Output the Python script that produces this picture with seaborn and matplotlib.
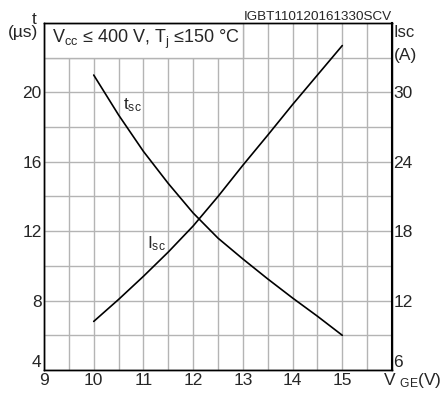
import numpy as np
import pandas as pd
import matplotlib
matplotlib.use("Agg")
import matplotlib.pyplot as plt
from matplotlib.patches import Rectangle
import seaborn as sns

# values
vge = [10, 10.5, 11, 11.5, 12, 12.5, 13, 13.5, 14, 14.5, 15]
tsc_us = [21.0, 18.7, 16.6, 14.75, 13.05, 11.6, 10.4, 9.25, 8.15, 7.1, 6.0]
isc_a = [10.2, 12.1, 14.1, 16.2, 18.45, 21.0, 23.7, 26.3, 28.95, 31.5, 34.05]

x_ticks = [9, 10, 11, 12, 13, 14, 15]
t_ticks = [4, 8, 12, 16, 20]
i_ticks = [6, 12, 18, 24, 30]

sns.set_style("white")
plt.rcParams["font.family"] = ["Liberation Sans", "DejaVu Sans"]
plt.rcParams["mathtext.fontset"] = "custom"
plt.rcParams["mathtext.rm"] = "Liberation Sans"
plt.rcParams["mathtext.it"] = "Liberation Sans:italic"

df = pd.DataFrame({"vge": vge, "tsc": tsc_us, "isc": isc_a})

W, H = 442, 396


def px(x, y):
    return x / W, 1 - y / H


fig = plt.figure(figsize=(W / 100, H / 100), dpi=100)
ax = fig.add_axes([44 / W, 26 / H, 348 / W, 347 / H])
ax2 = ax.twinx()

grid_col = "#b4b4b4"
ax.set_xlim(9, 16)
ax.set_ylim(4, 24)
ax2.set_ylim(6, 36)

ax.set_xticks(x_ticks)
ax.set_xticks(np.arange(9.5, 16, 0.5), minor=True)
ax.set_yticks(t_ticks)
ax.set_yticks(np.arange(6, 24, 2), minor=True)
ax.grid(which="both", color=grid_col, lw=1.0)
ax.set_axisbelow(True)

# white box for the conditions text
ax.add_patch(Rectangle((9, 22), 4, 2, facecolor="white", edgecolor=grid_col,
                       lw=1.0, zorder=1))
ax.text(9.16, 22.83, r"V$_{\mathregular{cc}}$ ≤ 400 V, T$_{\mathregular{j}}$ ≤150 °C",
        fontsize=13, va="baseline", ha="left", zorder=3)

sns.lineplot(data=df, x="vge", y="tsc", ax=ax, color="black", lw=1.2, zorder=3)
sns.lineplot(data=df, x="vge", y="isc", ax=ax2, color="black", lw=1.2, zorder=3)

ax.set_xlabel("")
ax.set_ylabel("")
ax2.set_xlabel("")
ax2.set_ylabel("")
ax2.set_yticks(i_ticks)

ax.set_xticklabels([str(v) for v in x_ticks], fontsize=12.5)
ax.set_yticklabels([str(v) for v in t_ticks], fontsize=12.5)
ax2.set_yticklabels([str(v) for v in i_ticks], fontsize=12.5)
ax.tick_params(axis="x", which="both", length=0, pad=2)
ax.tick_params(axis="y", which="both", length=0, pad=1.7)
ax2.tick_params(axis="y", which="both", length=0, pad=1)
ax.get_yticklabels()[0].set_va("bottom")
ax2.get_yticklabels()[0].set_va("bottom")

for a in (ax, ax2):
    for s in a.spines.values():
        s.set_color("black")
        s.set_linewidth(1.0)
ax2.spines["right"].set_linewidth(1.5)

# axis titles sit where the top tick labels would be
fig.text(*px(34, 24), "t", fontsize=12.5, ha="center", va="baseline")
fig.text(*px(22.7, 37.5), "(µs)", fontsize=12.5, ha="center", va="baseline")
fig.text(*px(393.5, 36.7), "Isc", fontsize=12, ha="left", va="baseline")
fig.text(*px(394, 60), "(A)", fontsize=12.5, ha="left", va="baseline")
fig.text(*px(392, 20), "IGBT110120161330SCV", fontsize=9.7, ha="right",
         va="baseline")
fig.text(*px(383, 385), r"V $_{\mathregular{GE}}$(V)", fontsize=12.5, ha="left",
         va="baseline")

ax.text(10.59, 19.0, r"t$_{\mathregular{sc}}$", fontsize=12.5, va="baseline", zorder=4)
ax.text(11.08, 11.03, r"I$_{\mathregular{sc}}$", fontsize=12.5, va="baseline", zorder=4)

fig.savefig("out.png", dpi=100)
